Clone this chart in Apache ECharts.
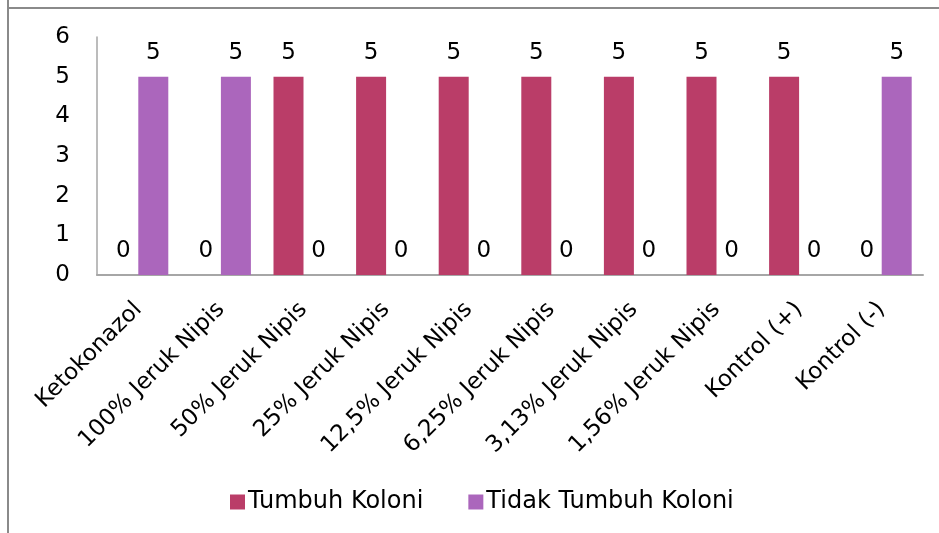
<!DOCTYPE html>
<html>
<head>
<meta charset="utf-8">
<script src="https://cdn.jsdelivr.net/npm/echarts@6/dist/echarts.min.js"></script>
<style>
  html, body { margin: 0; padding: 0; background: #fff; }
  #main { width: 939px; height: 533px; }
</style>
</head>
<body>
<div id="main"></div>
<script>
var categories = ['Ketokonazol', '100% Jeruk Nipis', '50% Jeruk Nipis', '25% Jeruk Nipis',
    '12,5% Jeruk Nipis', '6,25% Jeruk Nipis', '3,13% Jeruk Nipis', '1,56% Jeruk Nipis',
    'Kontrol (+)', 'Kontrol (-)'];
var tumbuh = [0, 0, 5, 5, 5, 5, 5, 5, 5, 0];
var tidakTumbuh = [5, 5, 0, 0, 0, 0, 0, 0, 0, 5];
var seriesNames = ['Tumbuh Koloni', 'Tidak Tumbuh Koloni'];

var font = 'DejaVu Sans';
var myChart = echarts.init(document.getElementById('main'));

var labelStyle = {
    show: true,
    position: 'top',
    distance: 12,
    color: '#000',
    fontFamily: font,
    fontSize: 23
};

var option = {
    animation: false,
    textStyle: { fontFamily: font },
    graphic: [
        { type: 'line', shape: { x1: 8, y1: 0, x2: 8, y2: 533 }, style: { stroke: '#8a8a8a', lineWidth: 2 } },
        { type: 'line', shape: { x1: 8, y1: 8, x2: 939, y2: 8 }, style: { stroke: '#8a8a8a', lineWidth: 2 } }
    ],
    grid: {
        left: 97,
        top: 37,
        right: 16,
        bottom: 258,
        containLabel: false
    },
    legend: {
        data: seriesNames,
        bottom: 14,
        left: 225,
        itemWidth: 15,
        itemHeight: 15,
        itemGap: 45,
        icon: 'rect',
        textStyle: { color: '#000', fontFamily: font, fontSize: 24, padding: [0, 0, 0, -2] }
    },
    xAxis: {
        type: 'category',
        data: categories,
        axisLine: { show: true, lineStyle: { color: '#a6a6a6', width: 2 } },
        axisTick: { show: false },
        axisLabel: {
            rotate: 45,
            interval: 0,
            margin: 31,
            color: '#000',
            fontFamily: font,
            fontSize: 23
        }
    },
    yAxis: {
        type: 'value',
        min: 0,
        max: 6,
        interval: 1,
        splitLine: { show: false },
        axisLine: { show: true, lineStyle: { color: '#a6a6a6', width: 1.5 } },
        axisTick: { show: false },
        axisLabel: {
            margin: 27,
            color: '#000',
            fontFamily: font,
            fontSize: 23
        }
    },
    series: [
        {
            name: seriesNames[0],
            type: 'bar',
            data: tumbuh,
            barWidth: 30,
            barGap: '0%',
            itemStyle: { color: '#BA3D68' },
            label: labelStyle
        },
        {
            name: seriesNames[1],
            type: 'bar',
            data: tidakTumbuh,
            barWidth: 30,
            itemStyle: { color: '#AB66BC' },
            label: labelStyle
        }
    ]
};

myChart.setOption(option);
</script>
</body>
</html>
